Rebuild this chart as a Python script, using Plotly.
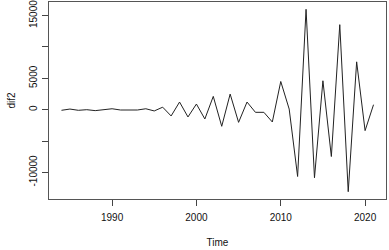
import plotly.graph_objects as go

years = list(range(1984, 2022))
dif2 = [-100, 100, -100, 0, -150, 0, 150, -50, 0, -50, 150, -200,
        400, -1000, 1220, -1160, 900, -1480, 2120, -2650, 2490, -2020,
        1220, -420, -420, -1960, 4500, 100, -10650, 16010, -10860, 4610,
        -7470, 13560, -13080, 7630, -3340, 795]

x_ticks = [1990, 2000, 2010, 2020]
y_ticks = [-10000, -5000, 0, 5000, 10000, 15000]
y_labels = ["-10000", "", "0", "5000", "", "15000"]

font = dict(family="Liberation Sans, Arial, sans-serif", size=10, color="#111")

fig = go.Figure(go.Scatter(x=years, y=dif2, mode="lines",
                           line=dict(color="#222", width=1)))

ymin, ymax = min(dif2), max(dif2)
yr = ymax - ymin
xr = years[-1] - years[0]

fig.update_layout(
    width=389, height=250,
    margin=dict(l=49, r=3, t=2, b=51, autoexpand=False),
    paper_bgcolor="white", plot_bgcolor="white",
    showlegend=False, font=font,
)
fig.update_xaxes(
    range=[years[0] - 0.04 * xr, years[-1] + 0.04 * xr],
    tickvals=x_ticks, ticks="outside", ticklen=6, tickcolor="#444",
    showgrid=False, zeroline=False, showline=True, linecolor="#555",
    linewidth=1, mirror=True, tickfont=font, automargin=False,
    ticklabeloverflow="allow", ticklabelstandoff=3,
    title=dict(text="Time", font=font, standoff=16),
)
fig.update_yaxes(
    range=[ymin - 0.04 * yr, ymax + 0.04 * yr],
    tickvals=y_ticks, ticktext=y_labels, tickangle=-90,
    ticks="outside", ticklen=6, tickcolor="#444",
    showgrid=False, zeroline=False, showline=True, linecolor="#555",
    linewidth=1, mirror=True, tickfont=font, automargin=False,
    ticklabeloverflow="allow", ticklabelstandoff=1,
    title=dict(text="dif2", font=font, standoff=10),
)
fig.write_html("out.html", config={"displayModeBar": False},
               post_script="document.body.style.margin='0';document.body.style.padding='0';")
